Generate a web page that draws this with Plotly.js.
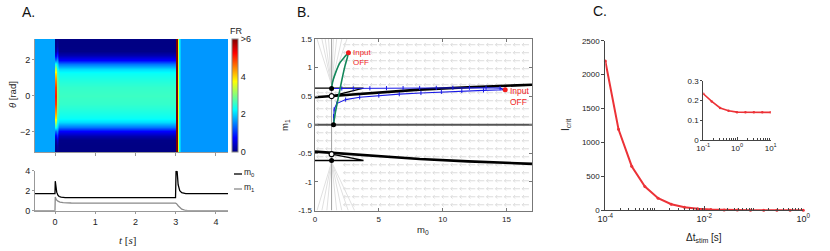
<!DOCTYPE html>
<html><head><meta charset="utf-8">
<script src="https://cdn.plot.ly/plotly-3.0.1.min.js"></script>
<style>html,body{margin:0;padding:0;background:#fff}#chart{width:830px;height:251px}</style>
</head><body><div id="chart"></div>
<script>
// ---------- Panel A: heatmap (firing rate vs time and theta) ----------
const heatTime = [-0.5, -0.002, 0.002, 0.012, 0.04, 0.1, 2.997, 3.0, 3.03, 3.045, 3.07, 3.12, 4.3];
const heatProfileOf = ['rest','rest','spike','spike','early','bump','bump','flash','flash','flashEdge','flashTail','after','after'];
const thetaVals = [-3.1416, -2.75, -2.5, -2.25, -2.0, -1.75, -1.5, -1.25, -1.0, -0.5, 0, 0.5, 1.0, 1.25, 1.5, 1.75, 2.0, 2.25, 2.5, 2.75, 3.1416];
const bumpFR  = [0, 0, 0.02, 0.25, 0.75, 1.45, 2.05, 2.3, 2.4, 2.55, 2.6, 2.55, 2.4, 2.3, 2.05, 1.45, 0.75, 0.25, 0.02, 0, 0];
const spikeFR = [0, 0.05, 0.2, 0.6, 1.4, 2.4, 3.3, 3.9, 4.3, 4.9, 5.1, 4.9, 4.3, 3.9, 3.3, 2.4, 1.4, 0.6, 0.2, 0.05, 0];
const earlyFR = [0.05, 0.2, 0.5, 1.0, 1.6, 2.1, 2.4, 2.6, 2.8, 3.0, 3.1, 3.0, 2.8, 2.6, 2.4, 2.1, 1.6, 1.0, 0.5, 0.2, 0.05];
const restFR = 1.72, afterFR = 1.64, flashFR = 6.6, flashEdgeFR = 3.6, flashTailFR = 2.3;
const frTicks = [0, 2, 4, 6], frTickText = ['0', '2', '4', '>6'];

// ---------- Panel A: population modes ----------
const tM0 = [-0.5, -0.003, 0.004, 0.02, 0.04, 0.07, 0.1, 0.15, 0.25, 2.995, 3.0, 3.008, 3.035, 3.06, 3.1, 3.15, 3.25, 4.3];
const m0Vals = [1.7, 1.7, 2.95, 2.3, 1.85, 1.55, 1.42, 1.35, 1.3, 1.3, 2.6, 3.97, 3.9, 2.6, 2.0, 1.8, 1.7, 1.7];
const tM1 = [-0.5, -0.003, 0.004, 0.03, 0.07, 0.12, 0.2, 0.4, 2.995, 3.02, 3.06, 3.1, 3.15, 3.22, 3.3, 4.3];
const m1Vals = [0, 0, 1.38, 1.1, 0.95, 0.85, 0.8, 0.77, 0.75, 0.7, 0.5, 0.3, 0.15, 0.05, 0, 0];

// ---------- Panel B: phase plane ----------
const fieldM0 = [0.4, 1.1, 1.8, 2.5, 3.2, 3.9, 4.6, 5.3, 6.0, 6.7, 7.4, 8.1, 8.8, 9.5, 10.2, 10.9, 11.6, 12.3, 13.0, 13.7, 14.4, 15.1, 15.8, 16.5];
const fieldM1 = [-1.4, -1.26, -1.12, -0.98, -0.84, -0.7, -0.56, -0.42, -0.28, -0.14, 0, 0.14, 0.28, 0.42, 0.56, 0.7, 0.84, 0.98, 1.12, 1.26, 1.4];
const fanTopOrigin = [1.3, 0.7], fanTopEnds = [0.16, 0.54, 0.8, 1.06, 1.45, 1.7, 2.1, 2.5];
const fanBotOrigin = [1.3, -0.65], fanBotEnds = [0.16, 0.54, 0.93, 1.7, 2.1, 2.6, 3.1];
const m0Nullcline = 1.3;
const nullM0 = [0, 4, 8.2, 12, 17];
const nullUpperM1 = [0.48, 0.55, 0.615, 0.655, 0.70];
const nullLowerM1 = [-0.47, -0.53, -0.6, -0.64, -0.684];
const wedgeM0 = [0, 3.8, 1.3];
const wedgeUpperM1 = [0.64, 0.64, 0.5];
const wedgeLowerM1 = [-0.625, -0.625, -0.515];
const blueM0 = [1.45, 1.45, 1.5, 1.7, 2.4, 3.5, 5, 6.6, 8.3, 9.9, 11.5, 13.2, 14.9, 14.5, 13.4, 12.1, 10.8, 9.5, 8.2, 6.9, 5.6, 4.3, 3.0, 2.1, 1.3];
const blueM1 = [0, 0.15, 0.27, 0.37, 0.44, 0.48, 0.51, 0.535, 0.556, 0.575, 0.59, 0.602, 0.612, 0.64, 0.648, 0.648, 0.647, 0.645, 0.643, 0.641, 0.64, 0.638, 0.636, 0.635, 0.635];
const greenM0 = [1.45, 1.6, 1.85, 2.1, 2.35, 2.62, 2.3, 1.97, 1.58, 1.37, 1.3];
const greenM1 = [0, 0.22, 0.5, 0.78, 1.03, 1.26, 1.18, 1.09, 0.89, 0.74, 0.635];
const offM0 = [2.62, 14.9], offM1 = [1.26, 0.612];
const stableM0 = [1.3, 1.45, 1.3], stableM1 = [0.635, 0, -0.625];
const unstableM0 = [1.3, 1.3], unstableM1 = [0.5, -0.515];

// ---------- Panel C: critical input ----------
const dtStim = [1.0e-4, 1.8478e-4, 3.4145e-4, 6.3096e-4, 1.1659e-3, 2.1544e-3, 3.9811e-3, 7.3564e-3, 1.3594e-2, 2.5119e-2, 4.6416e-2, 8.5770e-2, 1.5849e-1, 2.9286e-1, 5.4117e-1, 1.0];
const iCrit = [2200, 1195, 650, 350, 178, 89, 45, 22, 11, 5.5, 2.8, 1.4, 0.8, 0.5, 0.3, 0.2];
const dtInset = [0.1, 0.1778, 0.3162, 0.5623, 1, 1.778, 3.162, 5.623, 10];
const iCritInset = [0.234, 0.195, 0.162, 0.148, 0.141, 0.14, 0.14, 0.14, 0.14];

// ---------- build ----------
const W = 830, H = 251;
const px = v => v / W, py = v => 1 - v / H;
const FONT = 'Liberation Sans, Arial, sans-serif';
const TXT = '#222';

const profiles = {
  rest: thetaVals.map(() => restFR), after: thetaVals.map(() => afterFR),
  spike: spikeFR, early: earlyFR, bump: bumpFR,
  flash: thetaVals.map(() => flashFR), flashEdge: thetaVals.map(() => flashEdgeFR),
  flashTail: thetaVals.map(() => flashTailFR)
};
const zHeat = thetaVals.map((th, i) => heatProfileOf.map(p => profiles[p][i]));
const jet = [[0,'rgb(0,0,132)'],[0.125,'rgb(0,0,255)'],[0.375,'rgb(0,255,255)'],[0.625,'rgb(255,255,0)'],[0.875,'rgb(255,0,0)'],[1,'rgb(128,0,0)']];

const traces = [];
traces.push({type:'heatmap', x: heatTime, y: thetaVals, z: zHeat, zmin:0, zmax:6, zsmooth:'best',
  colorscale: jet, xaxis:'x', yaxis:'y', hoverinfo:'skip',
  colorbar:{x:px(232), xanchor:'left', y:py(95.5), yanchor:'middle', len:113, lenmode:'pixels',
    thickness:6, thicknessmode:'pixels', xpad:0, ypad:0, outlinewidth:1, outlinecolor:'#888',
    tickvals: frTicks, ticktext: frTickText, ticks:'', tickfont:{size:9, color:TXT, family:FONT}}});

traces.push({type:'scatter', mode:'lines', x:tM1, y:m1Vals, xaxis:'x2', yaxis:'y2', line:{color:'#8a8a8a', width:1.3}});
traces.push({type:'scatter', mode:'lines', x:tM0, y:m0Vals, xaxis:'x2', yaxis:'y2', line:{color:'#000', width:1.3}});

// vector field arrows (leftward), drawn as short line glyphs
const arrX = [], arrY = [];
const shaft = 0.26, headL = 0.13, headW = 0.03;
fieldM0.forEach(a => fieldM1.forEach(b => {
  if (a < 2.2 && Math.abs(b) > 0.68) return;
  arrX.push(a + shaft, a - shaft, null, a - shaft + headL, a - shaft, a - shaft + headL, null);
  arrY.push(b, b, null, b + headW, b, b - headW, null);
}));
traces.push({type:'scatter', mode:'lines', x:arrX, y:arrY, xaxis:'x3', yaxis:'y3', line:{color:'#d8d8d8', width:0.9}, hoverinfo:'skip'});
// fan streamlines
const fanX = [], fanY = [];
fanTopEnds.forEach(e => { fanX.push(fanTopOrigin[0], e, null); fanY.push(fanTopOrigin[1], 1.5, null); });
fanBotEnds.forEach(e => { fanX.push(fanBotOrigin[0], e, null); fanY.push(fanBotOrigin[1], -1.5, null); });
traces.push({type:'scatter', mode:'lines', x:fanX, y:fanY, xaxis:'x3', yaxis:'y3', line:{color:'#e0e0e0', width:1}});
traces.push({type:'scatter', mode:'lines', x:[m0Nullcline, m0Nullcline], y:[-1.5, 1.5], xaxis:'x3', yaxis:'y3', line:{color:'#a0a0a0', width:1}});
traces.push({type:'scatter', mode:'lines', x:[0, 17], y:[0, 0], xaxis:'x3', yaxis:'y3', line:{color:'#555', width:2.2}});
traces.push({type:'scatter', mode:'lines', x:nullM0, y:nullUpperM1, xaxis:'x3', yaxis:'y3', line:{color:'#000', width:2.6}});
traces.push({type:'scatter', mode:'lines', x:nullM0, y:nullLowerM1, xaxis:'x3', yaxis:'y3', line:{color:'#000', width:2.6}});
traces.push({type:'scatter', mode:'lines', x:wedgeM0, y:wedgeUpperM1, xaxis:'x3', yaxis:'y3', line:{color:'#000', width:1.3}});
traces.push({type:'scatter', mode:'lines', x:wedgeM0, y:wedgeLowerM1, xaxis:'x3', yaxis:'y3', line:{color:'#000', width:1.3}});
traces.push({type:'scatter', mode:'lines+markers', x:blueM0, y:blueM1, xaxis:'x3', yaxis:'y3',
  line:{color:'#1a1ae6', width:1.1}, marker:{symbol:'line-ns-open', size:3, color:'#1a1ae6', line:{color:'#1a1ae6', width:1}}});
traces.push({type:'scatter', mode:'lines', x:greenM0, y:greenM1, xaxis:'x3', yaxis:'y3', line:{color:'#12875a', width:1.6, shape:'spline', smoothing:0.6}});
traces.push({type:'scatter', mode:'markers', x:stableM0, y:stableM1, xaxis:'x3', yaxis:'y3', marker:{size:5, color:'#000'}});
traces.push({type:'scatter', mode:'markers', x:unstableM0, y:unstableM1, xaxis:'x3', yaxis:'y3', marker:{size:5, color:'#fff', line:{color:'#000', width:1.2}}});
traces.push({type:'scatter', mode:'markers', x:offM0, y:offM1, xaxis:'x3', yaxis:'y3', marker:{size:5, color:'#f21d1d'}});

// panel C
traces.push({type:'scatter', mode:'lines+markers', x:dtStim, y:iCrit, xaxis:'x4', yaxis:'y4', cliponaxis:false,
  line:{color:'#ec3237', width:2}, marker:{size:3, color:'#ec3237'}});
traces.push({type:'scatter', mode:'lines+markers', x:dtInset, y:iCritInset, xaxis:'x5', yaxis:'y5',
  line:{color:'#ec3237', width:1.6}, marker:{size:2.5, color:'#ec3237'}});

const tickfont = {size:8, color:TXT, family:FONT};
const base = {showgrid:false, zeroline:false, tickfont, fixedrange:true};
const layout = {
  width:W, height:H, margin:{l:0, r:0, t:0, b:0}, paper_bgcolor:'#fff', plot_bgcolor:'rgba(0,0,0,0)',
  showlegend:false, font:{family:FONT, size:8, color:TXT},
  xaxis: Object.assign({}, base, {domain:[px(35), px(228)], range:[-0.5, 4.3], anchor:'y', showline:true, linecolor:'#999', linewidth:1,
    ticks:'outside', ticklen:3, tickcolor:'#999', tickvals:[0,1,2,3,4], showticklabels:false}),
  yaxis: Object.assign({}, base, {domain:[py(152), py(39)], range:[-Math.PI, Math.PI], anchor:'x', showline:true, linecolor:'#999',
    ticks:'outside', ticklen:2, tickcolor:'#999', tickvals:[-2,0,2], tickfont:{size:9, color:TXT, family:FONT}}),
  xaxis2: Object.assign({}, base, {domain:[px(35), px(228)], range:[-0.5, 4.3], anchor:'y2', showline:true, linecolor:'#999',
    ticks:'outside', ticklen:2, tickcolor:'#999', tickvals:[0,1,2,3,4], tickfont:{size:9, color:TXT, family:FONT}}),
  yaxis2: Object.assign({}, base, {domain:[py(210.7), py(170.7)], range:[0, 4], anchor:'x2', showline:true, linecolor:'#999',
    ticks:'outside', ticklen:2, tickcolor:'#999', tickvals:[0,2,4], tickfont:{size:9, color:TXT, family:FONT}}),
  xaxis3: Object.assign({}, base, {domain:[px(315), px(532)], range:[0, 17], anchor:'y3', showline:true, mirror:'ticks', linecolor:'#777', linewidth:1.4,
    ticks:'inside', ticklen:3, tickcolor:'#777', tickvals:[0,5,10,15]}),
  yaxis3: Object.assign({}, base, {domain:[py(210.5), py(39)], range:[-1.5, 1.5], anchor:'x3', showline:true, mirror:'ticks', linecolor:'#777', linewidth:1.4,
    ticks:'inside', ticklen:3, tickcolor:'#777', tickvals:[-1.5,-1,-0.5,0,0.5,1,1.5], ticktext:['-1.5','-1','-0.5','0','0.5','1','1.5']}),
  xaxis4: Object.assign({}, base, {type:'log', domain:[px(605.3), px(803.3)], range:[-4, 0], anchor:'y4', showline:true, linecolor:'#444',
    ticks:'inside', ticklen:4, tickcolor:'#444', tickvals:[1e-4, 1e-2, 1], ticktext:['10<sup>-4</sup>','10<sup>-2</sup>','10<sup>0</sup>'],
    tickfont:{size:9, color:TXT, family:FONT},
    minor:{ticks:'inside', ticklen:2, tickcolor:'#444', dtick:'D1', showgrid:false}}),
  yaxis4: Object.assign({}, base, {domain:[py(210.3), py(40.7)], range:[0, 2500], anchor:'x4', showline:true, linecolor:'#444',
    ticks:'outside', ticklen:3, tickcolor:'#444', tickvals:[0,500,1000,1500,2000,2500]}),
  xaxis5: Object.assign({}, base, {type:'log', domain:[px(703.3), px(770.7)], range:[-1, 1], anchor:'y5', showline:true, linecolor:'#444',
    ticks:'inside', ticklen:3, tickcolor:'#444', tickvals:[0.1, 1, 10], ticktext:['10<sup>-1</sup>','10<sup>0</sup>','10<sup>1</sup>'],
    minor:{ticks:'inside', ticklen:2, tickcolor:'#444', dtick:'D1', showgrid:false}}),
  yaxis5: Object.assign({}, base, {domain:[py(140), py(80.7)], range:[0, 0.3], anchor:'x5', showline:true, linecolor:'#444',
    ticks:'outside', ticklen:2, tickcolor:'#444', tickvals:[0,0.1,0.2,0.3], ticktext:['0','0.1','0.2','0.3']}),
  shapes: [
    {type:'line', xref:'paper', yref:'paper', x0:px(234), x1:px(242), y0:py(174), y1:py(174), line:{color:'#000', width:1.3}},
    {type:'line', xref:'paper', yref:'paper', x0:px(234), x1:px(242), y0:py(189), y1:py(189), line:{color:'#8a8a8a', width:1.3}}
  ],
  annotations: []
};
function ann(text, x, y, o) {
  layout.annotations.push(Object.assign({text, xref:'paper', yref:'paper', x:px(x), y:py(y), showarrow:false,
    xanchor:'center', yanchor:'middle', borderpad:0, font:{size:9, color:TXT, family:FONT}}, o || {}));
}
ann('A.', 21, 12, {xanchor:'left', font:{size:14, color:'#111', family:FONT}});
ann('B.', 296, 12, {xanchor:'left', font:{size:14, color:'#111', family:FONT}});
ann('C.', 592, 11, {xanchor:'left', font:{size:14, color:'#111', family:FONT}});
ann('<i>θ</i> [rad]', 12, 95, {textangle:-90, font:{size:9.5, color:TXT, family:FONT}});
ann('FR', 236, 31, {font:{size:9, color:TXT, family:FONT}});
ann('m<sub>0</sub>', 243, 172.5, {xanchor:'left', font:{size:8.5, color:TXT, family:FONT}});
ann('m<sub>1</sub>', 243, 187.5, {xanchor:'left', font:{size:8.5, color:TXT, family:FONT}});
ann('<i>t</i> [<i>s</i>]', 127, 240, {font:{size:11, color:TXT, family:'Liberation Serif, serif'}});
ann('m<sub>0</sub>', 423, 230, {font:{size:9.5, color:TXT, family:FONT}});
ann('m<sub>1</sub>', 285, 125, {textangle:-90, font:{size:9.5, color:TXT, family:FONT}});
ann('Δt<sub>stim</sub> [s]', 704, 238, {font:{size:10, color:TXT, family:FONT}});
ann('I<sub>crit</sub>', 566, 125, {textangle:-90, font:{size:10, color:TXT, family:FONT}});
const red = '#f21d1d';
ann('Input<br>OFF', 351.5, 57.5, {xanchor:'left', align:'left', font:{size:8, color:red, family:FONT}});
ann('Input<br>OFF', 508.5, 96, {xanchor:'left', align:'left', font:{size:8.5, color:red, family:FONT}});

Plotly.newPlot('chart', traces, layout, {displayModeBar:false, staticPlot:true});
</script></body></html>
